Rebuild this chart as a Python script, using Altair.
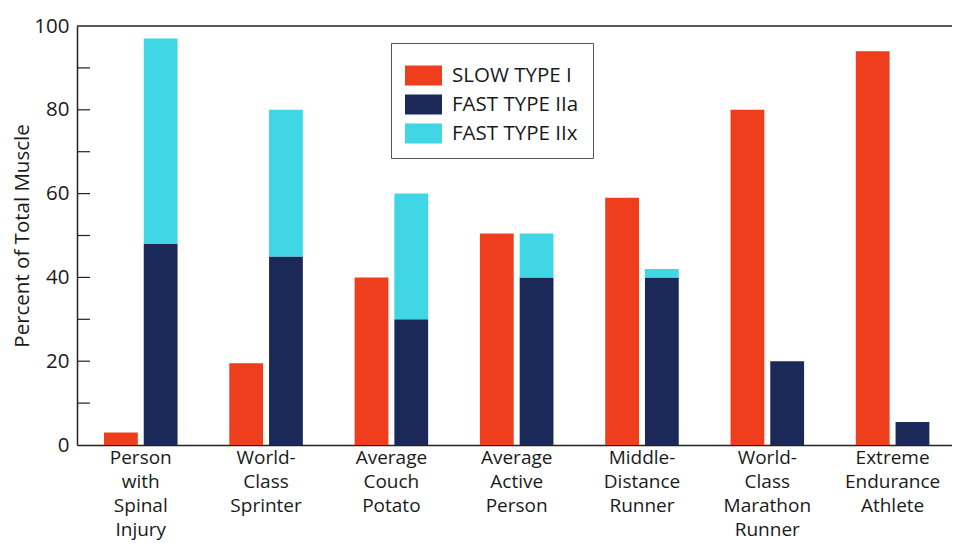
import altair as alt
import pandas as pd

categories = [
    "Person|with|Spinal|Injury",
    "World-|Class|Sprinter",
    "Average|Couch|Potato",
    "Average|Active|Person",
    "Middle-|Distance|Runner",
    "World-|Class|Marathon|Runner",
    "Extreme|Endurance|Athlete",
]
slow_type_I = [3, 19.5, 40, 50.5, 59, 80, 94]
fast_type_IIa = [48, 45, 30, 40, 40, 20, 5.5]
fast_type_IIx = [49, 35, 30, 10.5, 2, 0, 0]

types = ["SLOW TYPE I", "FAST TYPE IIa", "FAST TYPE IIx"]
colors = ["#EF3E1E", "#1B2959", "#3FD6E6"]
minor_ticks = [10, 20, 30, 40, 50, 60, 70, 80, 90]
tick_labels = [0, 20, 40, 60, 80, 100]

rows = []
for i, c in enumerate(categories):
    rows.append({"category": c, "group": "slow", "type": types[0], "value": slow_type_I[i], "order": 0})
    rows.append({"category": c, "group": "fast", "type": types[1], "value": fast_type_IIa[i], "order": 1})
    rows.append({"category": c, "group": "fast", "type": types[2], "value": fast_type_IIx[i], "order": 2})
df = pd.DataFrame(rows)

FONT = "Open Sans"

y_axis = alt.Axis(
    title="Percent of Total Muscle",
    titleFontSize=20.5,
    titleFontWeight="normal",
    titleColor="#1a1a1a",
    titlePadding=1,
    values=tick_labels,
    labelFontSize=20.5,
    labelColor="#1a1a1a",
    labelPadding=8,
    ticks=False,
    grid=False,
    domainColor="#222",
    domainWidth=1.5,
)
y_scale = alt.Scale(domain=[0, 100], nice=False)

bars = (
    alt.Chart(df)
    .transform_stack(
        stack="value",
        groupby=["category", "group"],
        as_=["y0", "y1"],
        sort=[alt.SortField("order")],
    )
    .mark_bar()
    .encode(
        x=alt.X(
            "category:N",
            sort=categories,
            scale=alt.Scale(paddingInner=0.413, paddingOuter=0.198, align=0.544),
            axis=alt.Axis(
                title=None,
                labelAngle=0,
                labelExpr="split(datum.label, '|')",
                labelFontSize=19,
                labelLineHeight=24,
                labelPadding=3,
                labelColor="#1a1a1a",
                ticks=False,
                domainColor="#222",
                domainWidth=1.5,
            ),
        ),
        xOffset=alt.XOffset("group:N", sort=["slow", "fast"], scale=alt.Scale(paddingInner=0.15)),
        y=alt.Y("y0:Q", scale=y_scale, axis=y_axis),
        y2="y1:Q",
        color=alt.Color(
            "type:N",
            scale=alt.Scale(domain=types, range=colors),
            legend=alt.Legend(
                title=None,
                orient="none",
                legendX=314,
                legendY=17,
                strokeColor="#555",
                padding=14,
                labelFontSize=20.5,
                labelColor="#1a1a1a",
                labelOffset=10,
                symbolType="M-1,-0.54H1V0.54H-1Z",
                symbolSize=1369,
                symbolStrokeWidth=0,
                symbolOpacity=1,
                rowPadding=0,
            ),
        ),
    )
)

ticks = (
    alt.Chart(pd.DataFrame({"t": minor_ticks}))
    .mark_rule(color="#222", strokeWidth=1.2)
    .encode(y=alt.Y("t:Q", scale=y_scale, axis=y_axis), x=alt.value(0), x2=alt.value(13))
)

top_border = (
    alt.Chart(pd.DataFrame({"t": [100]}))
    .mark_rule(color="#222", strokeWidth=1.5)
    .encode(y=alt.Y("t:Q", scale=y_scale, axis=y_axis))
)

chart = (
    alt.layer(bars, ticks, top_border)
    .properties(
        width=875,
        height=419,
        autosize=alt.AutoSizeParams(type="none"),
        padding={"left": 69, "top": 18, "right": 0, "bottom": 98},
    )
    .configure(font=FONT)
    .configure_view(stroke=None)
)

chart.save("out.html", embed_options={"renderer": "svg", "actions": False})
